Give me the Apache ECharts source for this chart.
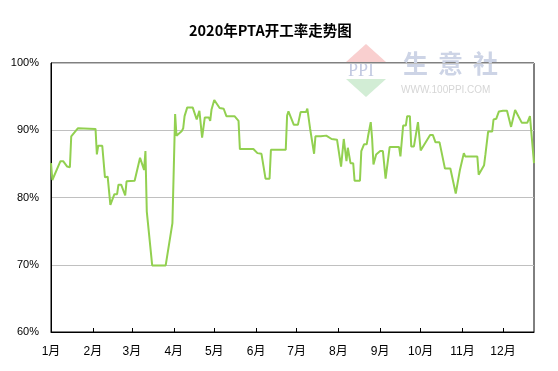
<!DOCTYPE html>
<html>
<head>
<meta charset="utf-8">
<script src="https://cdn.jsdelivr.net/npm/echarts@6/dist/echarts.min.js"></script>
<style>html,body{margin:0;padding:0;background:#fff;}#c{width:558px;height:371px;}</style>
</head>
<body>
<div id="c"></div>
<script>
// day index (0 = 1 Jan 2020) and PTA operating rate (%)
const days = [0,1,7,9,12,14,15,20,33,34,35,38,40,42,44,47,49,50,52,55,56,62,66,69,70,71,72,75,85,90,
  92,93,97,98,99,101,105,108,110,112,114,117,118,119,121,125,128,130,136,139,140,150,153,156,159,162,163,174,175,176,
  180,183,185,189,190,192,195,196,200,204,208,212,215,217,219,220,222,224,225,229,230,232,234,235,237,238,239,241,244,246,
  248,251,258,259,261,263,264,266,267,269,272,274,281,283,285,288,292,296,300,301,303,306,307,316,317,321,322,323,324,327,
  328,330,332,335,338,341,344,345,349,353,355,356,358];
const rates = [85.1,82.6,85.4,85.4,84.6,84.5,89.1,90.3,90.2,86.4,87.7,87.7,83.0,83.1,78.9,80.5,80.5,81.9,81.9,80.3,82.4,82.5,85.9,84.1,86.9,77.9,77.9,69.9,69.9,76.2,
  92.4,89.2,89.9,90.3,92.1,93.4,93.4,91.6,92.9,88.9,91.9,91.9,91.4,93.1,94.5,93.3,93.2,92.1,92.1,91.4,87.2,87.2,86.6,86.5,82.8,82.8,87.1,87.1,92.2,92.8,
  90.8,90.8,92.7,92.7,93.2,90.3,86.5,89.1,89.1,89.2,88.7,88.6,84.6,88.7,85.4,87.4,85.1,85.1,82.5,82.5,86.9,87.9,87.9,89.1,91.2,88.8,84.9,86.4,86.9,86.9,
  82.8,87.5,87.5,86.1,90.7,90.7,92.1,92.1,87.6,87.6,91.2,87.0,89.3,89.3,88.2,88.2,84.3,84.3,80.6,80.6,84.0,86.6,86.1,86.1,83.4,84.8,86.4,86.4,89.8,89.8,
  91.6,91.7,92.8,92.9,92.9,90.5,93.0,92.8,91.1,91.1,92.1,91.9,85.1];
const monthStarts = [0,31,60,91,121,152,182,213,244,274,305,335];
const monthLabels = ['1月','2月','3月','4月','5月','6月','7月','8月','9月','10月','11月','12月'];
const yTicks = [60,70,80,90,100];
const titleText = '2020年PTA开工率走势图';

const seriesData = days.map((d, i) => [d, rates[i]]);
const font = 'Liberation Sans, "Noto Sans CJK SC", sans-serif';

const chart = echarts.init(document.getElementById('c'), null, {renderer: 'canvas'});
chart.setOption({
  animation: false,
  backgroundColor: '#fff',
  title: {
    text: titleText,
    left: 184, top: 18,
    textStyle: {fontSize: 14.5, fontWeight: 'bold', color: '#000', fontFamily: '"Noto Sans CJK SC", sans-serif'}
  },
  graphic: [
    {type: 'polygon', z: 0, shape: {points: [[366,44],[346,62],[386,62]]}, style: {fill: '#f9cfcf'}},
    {type: 'polygon', z: 0, shape: {points: [[346,79],[386,79],[366,97]]}, style: {fill: '#d2edd5'}},
    {type: 'text', z: 0, left: 348, top: 62, style: {text: 'PPI', fontSize: 18, fontFamily: 'Liberation Serif, serif', fill: '#c3cae2', letterSpacing: 2}},
    {type: 'text', z: 0, left: 403, top: 51, style: {text: '生', fontSize: 25, fontWeight: 'bold', fontFamily: '"Noto Sans CJK SC", sans-serif', fill: '#cdd4e6'}},
    {type: 'text', z: 0, left: 438, top: 51, style: {text: '意', fontSize: 25, fontWeight: 'bold', fontFamily: '"Noto Sans CJK SC", sans-serif', fill: '#cdd4e6'}},
    {type: 'text', z: 0, left: 473, top: 51, style: {text: '社', fontSize: 25, fontWeight: 'bold', fontFamily: '"Noto Sans CJK SC", sans-serif', fill: '#cdd4e6'}},
    {type: 'text', z: 0, left: 401, top: 85, style: {text: 'WWW.100PPI.COM', fontSize: 10, fontFamily: 'Liberation Sans, sans-serif', fill: '#d6d6d6'}}
  ],
  grid: {left: 51, right: 24, top: 63, bottom: 39, show: true, borderColor: '#000', borderWidth: 1, backgroundColor: 'transparent'},
  xAxis: {
    type: 'value', min: 0, max: days[days.length - 1],
    axisLine: {lineStyle: {color: '#000', width: 1}},
    axisTick: {show: true, inside: true, length: 4, lineStyle: {color: '#000'}, customValues: monthStarts.slice(1)},
    axisLabel: {
      customValues: monthStarts, margin: 14, color: '#000', fontSize: 12, fontFamily: font,
      formatter: v => monthLabels[monthStarts.indexOf(v)] || ''
    },
    splitLine: {show: false}
  },
  yAxis: {
    type: 'value', min: yTicks[0], max: yTicks[yTicks.length - 1], interval: 10,
    axisLine: {show: true, lineStyle: {color: '#000', width: 1}},
    axisTick: {show: false},
    axisLabel: {formatter: '{value}%', color: '#000', fontSize: 11, margin: 12, fontFamily: font},
    splitLine: {show: true, lineStyle: {color: '#c0c0c0', width: 1}}
  },
  series: [{
    type: 'line', data: seriesData, showSymbol: false, symbol: 'none',
    lineStyle: {color: '#92d050', width: 2}, z: 3
  }]
});
</script>
</body>
</html>
